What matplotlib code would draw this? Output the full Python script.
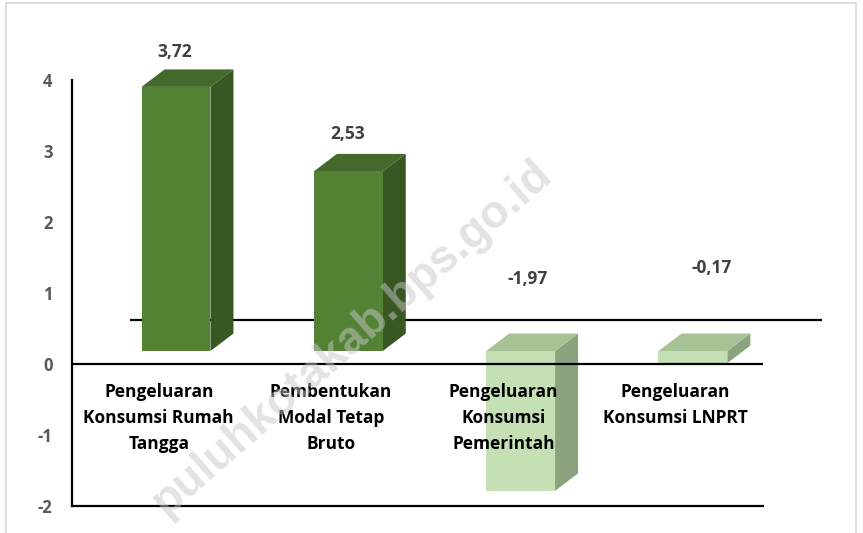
import numpy as np
import matplotlib
matplotlib.use('Agg')
import matplotlib.pyplot as plt
from matplotlib.patches import Polygon, Rectangle

plt.rcParams['font.family'] = ['Open Sans', 'DejaVu Sans']

# Data
categories = ['Pengeluaran\nKonsumsi Rumah\nTangga',
              'Pembentukan\nModal Tetap\nBruto',
              'Pengeluaran\nKonsumsi\nPemerintah',
              'Pengeluaran\nKonsumsi LNPRT']
values = [3.72, 2.53, -1.97, -0.17]
yticks = [-2, -1, 0, 1, 2, 3, 4]

# Style / layout settings
W, H = 863, 533
half_w = 0.2          # half bar width (category units)
dx, dy = 0.1335, 0.246  # 3d depth offsets
base = 0.183          # front face baseline lift
pos_colors = ('#548235', '#44692b', '#385723')   # front, top, side
neg_colors = ('#c5e0b4', '#a7c295', '#8ba47d')
label_dx = [-0.006, -0.002, 0.043, 0.111]
label_y = [4.394, 3.239, 1.197, 1.352]

fig = plt.figure(figsize=(W / 100, H / 100), dpi=100)
fig.patch.set_facecolor('white')
fig.patches.append(Rectangle((6 / W, -0.05), (856 - 6) / W, 1 - 3 / H + 0.05,
                             transform=fig.transFigure, fill=False,
                             edgecolor='#d9d9d9', lw=1.2))

ax = fig.add_axes([72 / W, (H - 506) / H, (763 - 72) / W, (506 - 80) / H])
ax.set_xlim((72 - 176) / 172.3, (763 - 176) / 172.3)
ax.set_ylim(-2, 4)

def draw_bar(xc, v, cols):
    front, top, side = cols
    x0, x1 = xc - half_w, xc + half_w
    if v >= 0:
        lo, hi = base, v + base
    else:
        lo, hi = v + base, base
    ax.add_patch(Polygon([(x1, lo), (x1, hi), (x1 + dx, hi + dy), (x1 + dx, lo + dy)],
                         closed=True, fc=side, ec='none', zorder=3, clip_on=False))
    ax.add_patch(Polygon([(x0, hi), (x1, hi), (x1 + dx, hi + dy), (x0 + dx, hi + dy)],
                         closed=True, fc=top, ec='none', zorder=3, clip_on=False))
    ax.add_patch(Rectangle((x0, lo), x1 - x0, hi - lo, fc=front, ec='none',
                           zorder=3, clip_on=False))

# back floor line
ax.plot([(130 - 176) / 172.3, (822 - 176) / 172.3], [0.62, 0.62], color='black',
        lw=1.6, zorder=1, clip_on=False, solid_capstyle='butt')

for i, v in enumerate(values):
    draw_bar(i, v, pos_colors if v >= 0 else neg_colors)
    ax.text(i + label_dx[i], label_y[i], f'{v:.2f}'.replace('.', ','),
            ha='center', va='center', fontsize=12.5, fontweight='bold',
            color='#404040', clip_on=False)
    ax.text(i - 0.1, -0.27, categories[i], ha='center', va='top',
            fontsize=12.5, fontweight='bold', color='black', linespacing=1.55,
            zorder=6)

ax.axhline(0, color='black', lw=1.6, zorder=4)

for s in ['top', 'right']:
    ax.spines[s].set_visible(False)
ax.spines['left'].set_linewidth(1.6)
ax.spines['bottom'].set_linewidth(1.6)
ax.set_xticks([])
ax.set_yticks(yticks)
ax.set_yticklabels([str(t) for t in yticks], fontsize=12, fontweight='bold',
                   color='#595959')
ax.tick_params(axis='y', length=0, pad=14)
ax.patch.set_alpha(0)

# watermark
fig.text(352 / W, 1 - 338 / H, 'puluhkotakab.bps.go.id', rotation=41.2,
         rotation_mode='anchor', ha='center', va='center', fontsize=33,
         fontweight='bold', family='Liberation Sans', color='#c8c8c8',
         alpha=0.5, zorder=10)

fig.savefig('out.png', dpi=100)
